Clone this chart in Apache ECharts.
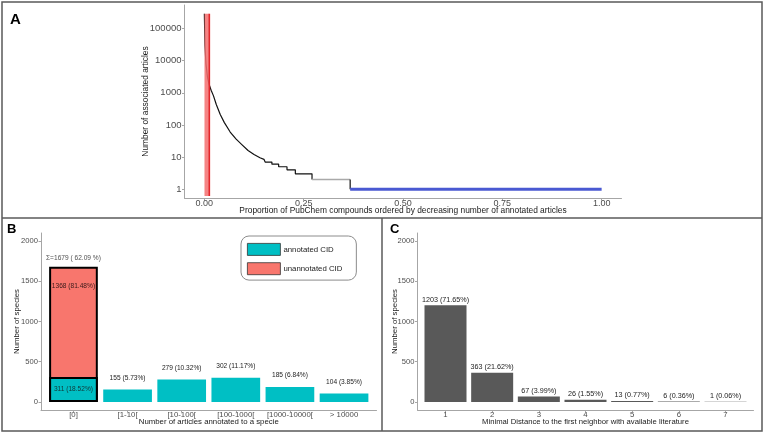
<!DOCTYPE html>
<html><head><meta charset="utf-8">
<script src="https://cdn.jsdelivr.net/npm/echarts@6/dist/echarts.min.js"></script>
<style>html,body{margin:0;padding:0;background:#fff}#c{width:764px;height:433px}</style>
</head><body><div id="c"></div>
<script>
// ---------- Panel A data ----------
const propX = [0, 0.0015, 0.004, 0.008, 0.012, 0.017, 0.023, 0.030, 0.040, 0.050, 0.065, 0.080, 0.095, 0.110, 0.125, 0.140, 0.150, 0.153, 0.153, 0.170, 0.170, 0.187, 0.187, 0.208, 0.208, 0.229, 0.229, 0.271, 0.271];
const articles = [286000, 30000, 8000, 3000, 1800, 1200, 800, 430, 210, 120, 60, 36, 24, 16, 12, 9.5, 8.5, 8, 7, 7, 6, 6, 5, 5, 4, 4, 3, 3, 2];
const grayX = [0.271, 0.367];
const grayY = [2, 2];
const dropX = [0.367, 0.367];
const dropY = [2, 1];
const blueX = [0.367, 1.0];
const blueY = [1, 1];
const redBandX = [0.0003, 0.0125];
const redBandY = [0.61, 286000];
const aXTicks = [0, 0.25, 0.5, 0.75, 1];
const aYTicks = [1, 10, 100, 1000, 10000, 100000];

// ---------- Panel B data ----------
const catsB = ['[0]', '[1-10[', '[10-100[', '[100-1000[', '[1000-10000[', '> 10000'];
const annotatedB = [311, 155, 279, 302, 185, 104];
const annotatedPctB = ['18.52%', '5.73%', '10.32%', '11.17%', '6.84%', '3.85%'];
const unannotatedB = [1368];
const unannotatedPctB = ['81.48%'];
const totalB = [1679];
const totalPctB = ['62.09 %'];
const countTicks = [0, 500, 1000, 1500, 2000];

// ---------- Panel C data ----------
const distC = [1, 2, 3, 4, 5, 6, 7];
const speciesC = [1203, 363, 67, 26, 13, 6, 1];
const pctC = ['71.65%', '21.62%', '3.99%', '1.55%', '0.77%', '0.36%', '0.06%'];

const FONT = "'Liberation Sans', Arial, Helvetica, sans-serif";
const zip = (a, b) => a.map((v, i) => [v, b[i]]);
const axisLineStyle = { show: true, onZero: false, lineStyle: { color: '#a6a6a6', width: 1 } };

function xAx(grid, min, max, ticks, fmt, name, fs, nfs, gap) {
  return {
    type: 'value', gridIndex: grid, min: min, max: max,
    axisLine: axisLineStyle,
    axisTick: { show: true, customValues: ticks, length: 2.5, lineStyle: { color: '#a6a6a6' } },
    axisLabel: { customValues: ticks, formatter: fmt, fontSize: fs, color: '#4d4d4d', margin: 1, fontFamily: FONT },
    splitLine: { show: false },
    name: name, nameLocation: 'middle', nameGap: gap, nameMoveOverlap: false,
    nameTextStyle: { fontSize: nfs, color: '#1a1a1a', fontFamily: FONT }
  };
}
function yAx(grid, type, min, max, ticks, name, fs, nfs, gap) {
  const o = {
    type: type, gridIndex: grid, min: min, max: max,
    axisLine: axisLineStyle,
    axisTick: { show: true, customValues: ticks, length: 2.5, lineStyle: { color: '#a6a6a6' } },
    axisLabel: { customValues: ticks, formatter: v => String(v), fontSize: fs, color: '#4d4d4d', margin: 3, fontFamily: FONT },
    splitLine: { show: false },
    name: name, nameLocation: 'middle', nameGap: gap, nameMoveOverlap: false,
    nameTextStyle: { fontSize: nfs, color: '#1a1a1a', fontFamily: FONT }
  };
  if (type === 'log') o.logBase = 10;
  return o;
}

const chart = echarts.init(document.getElementById('c'), null, { renderer: 'canvas' });
const option = {
  animation: false,
  backgroundColor: '#fff',
  textStyle: { fontFamily: FONT },
  grid: [
    { left: 184.5, top: 5, width: 437, height: 193 },
    { left: 41, top: 233, width: 335.5, height: 177 },
    { left: 417.5, top: 233, width: 336, height: 177 }
  ],
  xAxis: [
    xAx(0, -0.05, 1.05, aXTicks, v => v.toFixed(2), 'Proportion of PubChem compounds ordered by decreasing number of annotated articles', 9, 8.4, 9),
    xAx(1, -0.6, 5.6, catsB.map((c, i) => i), v => catsB[v], 'Number of articles annotated to a specie', 7.8, 7.8, 8),
    xAx(2, 0.4, 7.6, distC, v => String(v), 'Minimal Distance to the first neighbor with available literature', 7.8, 7.7, 8)
  ],
  yAxis: [
    yAx(0, 'log', 0.533, 536000, aYTicks, 'Number of associated articles', 9.5, 8.4, 35),
    yAx(1, 'value', -100, 2100, countTicks, 'Number of species', 7.6, 7.8, 20),
    yAx(2, 'value', -100, 2100, countTicks, 'Number of species', 7.6, 7.8, 19)
  ],
  legend: {
    data: ['annotated CID', 'unannotated CID'],
    left: 241, top: 236, orient: 'vertical',
    itemWidth: 33, itemHeight: 12, itemGap: 6.5,
    padding: [7, 14, 5, 6],
    borderColor: '#8c8c8c', borderWidth: 1, borderRadius: 8, backgroundColor: '#fff',
    icon: 'rect',
    itemStyle: { borderColor: '#333', borderWidth: 0.8 },
    textStyle: { fontSize: 7.8, color: '#1a1a1a', fontFamily: FONT, padding: [0, 0, 0, -2] }
  },
  graphic: [
    { type: 'rect', silent: true, shape: { x: 2, y: 2, width: 760, height: 429 }, style: { fill: 'none', stroke: '#5a5a5a', lineWidth: 1.5 } },
    { type: 'line', silent: true, shape: { x1: 2, y1: 218, x2: 762, y2: 218 }, style: { stroke: '#5a5a5a', lineWidth: 1.5 } },
    { type: 'line', silent: true, shape: { x1: 382, y1: 218, x2: 382, y2: 431 }, style: { stroke: '#5a5a5a', lineWidth: 1.5 } },
    { type: 'text', left: 10, top: 12, style: { text: 'A', font: "bold 15px 'Liberation Sans', Arial", fill: '#000' } },
    { type: 'text', left: 7, top: 223, style: { text: 'B', font: "bold 13px 'Liberation Sans', Arial", fill: '#000' } },
    { type: 'text', left: 390, top: 223, style: { text: 'C', font: "bold 13px 'Liberation Sans', Arial", fill: '#000' } }
  ],
  series: [
    // Panel A
    { name: 'curve', type: 'line', xAxisIndex: 0, yAxisIndex: 0, data: zip(propX, articles), showSymbol: false, symbol: 'none',
      lineStyle: { color: '#111', width: 1.2 }, z: 3 },
    { name: 'gray', type: 'line', xAxisIndex: 0, yAxisIndex: 0, data: zip(grayX, grayY), symbol: 'none',
      lineStyle: { color: '#a9a9a9', width: 1.6 }, z: 3 },
    { name: 'drop', type: 'line', xAxisIndex: 0, yAxisIndex: 0, data: zip(dropX, dropY), symbol: 'none',
      lineStyle: { color: '#111', width: 1.2 }, z: 3 },
    { name: 'blue', type: 'line', xAxisIndex: 0, yAxisIndex: 0, data: zip(blueX, blueY), symbol: 'none',
      lineStyle: { color: '#4a59d2', width: 3 }, z: 4 },
    { name: 'red', type: 'line', xAxisIndex: 0, yAxisIndex: 0,
      data: [[redBandX[1], redBandY[0]], [redBandX[1], redBandY[1]]], symbol: 'none',
      lineStyle: { color: '#e3262b', width: 1.6 }, z: 6,
      markArea: { silent: true, z: 5,
        itemStyle: { color: 'rgba(243,110,110,0.85)' },
        data: [[{ coord: [redBandX[0], redBandY[0]] }, { coord: [redBandX[1], redBandY[1]] }]] } },
    // Panel B: unannotated drawn as the full column (total), annotated overlaid at its base
    { name: 'unannotated CID', type: 'bar', xAxisIndex: 1, yAxisIndex: 1, barWidth: '90%', barGap: '-100%',
      itemStyle: { color: '#F8766D', borderColor: '#000', borderWidth: 2 },
      label: { show: true, position: 'insideTop', distance: 16, fontSize: 6.6, color: '#3a1a1a', fontFamily: FONT,
        formatter: p => unannotatedB[p.dataIndex] + ' (' + unannotatedPctB[p.dataIndex] + ')' },
      data: totalB.map((v, i) => [i, v]) },
    { name: 'annotated CID', type: 'bar', xAxisIndex: 1, yAxisIndex: 1, barWidth: '90%', barGap: '-100%',
      itemStyle: { color: '#00BFC4' },
      label: { show: true, position: 'top', distance: 8, fontSize: 6.6, color: '#222', fontFamily: FONT,
        formatter: p => annotatedB[p.dataIndex] + ' (' + annotatedPctB[p.dataIndex] + ')' },
      data: annotatedB.map((v, i) => i === 0
        ? { value: [i, v], itemStyle: { borderColor: '#000', borderWidth: 2 }, label: { position: 'inside', distance: 0, color: '#103838' } }
        : { value: [i, v] }) },
    { name: 'total', type: 'scatter', xAxisIndex: 1, yAxisIndex: 1, symbolSize: 0, silent: true,
      label: { show: true, position: 'top', distance: 5, fontSize: 6.6, color: '#222', fontFamily: FONT,
        formatter: p => '\u03A3=' + totalB[p.dataIndex] + ' ( ' + totalPctB[p.dataIndex] + ')' },
      data: totalB.map((v, i) => [i, v]) },
    // Panel C
    { name: 'distance', type: 'bar', xAxisIndex: 2, yAxisIndex: 2, barWidth: '90%',
      itemStyle: { color: '#595959' },
      label: { show: true, position: 'top', distance: 2, fontSize: 7.2, color: '#222', fontFamily: FONT,
        formatter: p => speciesC[p.dataIndex] + ' (' + pctC[p.dataIndex] + ')' },
      data: zip(distC, speciesC) }
  ]
};
chart.setOption(option);
</script>
</body></html>
